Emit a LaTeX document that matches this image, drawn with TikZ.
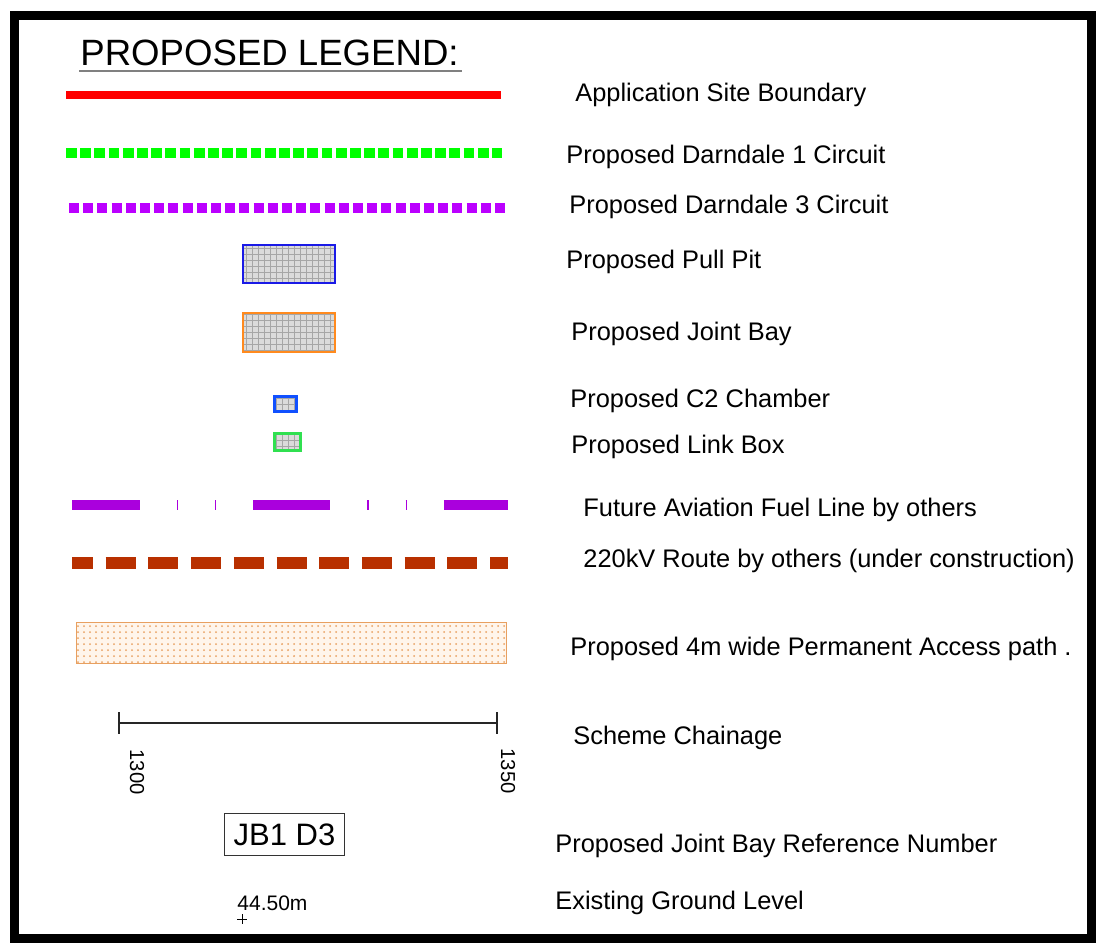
\documentclass[tikz,border=0pt]{standalone}
\usepackage{fontspec}
\setmainfont{Liberation Sans}
\usetikzlibrary{patterns}
\newcommand{\lbfont}{\fontsize{12.7}{15}\selectfont}
\definecolor{cRed}{HTML}{FF0000}
\definecolor{cGreen}{HTML}{00FF00}
\definecolor{cViolet}{HTML}{BB00FF}
\definecolor{cFuel}{HTML}{AA00DD}
\definecolor{cRoute}{HTML}{B83000}
\definecolor{cPit}{HTML}{1A1AE6}
\definecolor{cBay}{HTML}{FF8A1E}
\definecolor{cCham}{HTML}{1050FF}
\definecolor{cLink}{HTML}{30E050}
\definecolor{cPath}{HTML}{E8A060}
\tikzset{
    lb/.style={anchor=base west, inner sep=0pt, font=\lbfont},
    pit/.style={preaction={fill=gray!28}, pattern=grid, pattern color=gray!70, line width=1.3pt, inner sep=0pt},
    sq/.style={line width=5.3pt, dash pattern=on 5.35pt off 1.75pt}
}
\begin{document}
\begin{tikzpicture}[x=0.5pt, y=-0.5pt]
\useasboundingbox (0,0) rectangle (1113,944);

% Frame
\draw[line width=4.5pt] (14.5,15) rectangle (1091.5,938.5);

% Title
\node[anchor=base west, inner sep=0pt, font=\fontsize{18.3}{22}\selectfont] (T) at (80,65) {PROPOSED LEGEND:};
\draw[gray, line width=0.7pt] (79,71) -- (462,71);

% Row 1: site boundary
\draw[cRed, line width=4pt] (66,95) -- (501,95);
\node[lb] (L1) at (575,101) {Application Site Boundary};

% Row 2-3: circuits
\draw[sq, cGreen] (66,153) -- (502,153);
\node[lb] (L2) at (566,163) {Proposed Darndale 1 Circuit};
\draw[sq, cViolet, dash pattern=on 5pt off 2.1pt] (69,208) -- (505,208);
\node[lb] (L3) at (569,213) {Proposed Darndale 3 Circuit};

% Row 4-7: pits and chambers
\node[pit, draw=cPit, minimum width=46pt, minimum height=19pt] (PP) at (289,264) {};
\node[lb] (L4) at (566,268) {Proposed Pull Pit};
\node[pit, draw=cBay, minimum width=46pt, minimum height=19.5pt] (JBay) at (289,332.5) {};
\node[lb] (L5) at (571,340) {Proposed Joint Bay};
\node[pit, draw=cCham, minimum width=11pt, minimum height=7.5pt] (C2) at (285.5,404) {};
\node[lb] (L6) at (570,407) {Proposed C2 Chamber};
\node[pit, draw=cLink, minimum width=13pt, minimum height=8.5pt] (LB) at (287.5,442) {};
\node[lb] (L7) at (571,453) {Proposed Link Box};

% Row 8-9: lines by others
\draw[cFuel, line width=5pt, dash pattern=on 38.5pt off 18.5pt on 0.6pt off 18.5pt on 0.6pt off 18.5pt, dash phase=4.5pt] (72,505) -- (508,505);
\node[lb] (L8) at (583,516) {Future Aviation Fuel Line by others};
\draw[cRoute, line width=6.3pt, dash pattern=on 15pt off 6.35pt, dash phase=4.5pt] (72,563) -- (508,563);
\node[lb] (L9) at (583,567) {220kV Route by others (under construction)};

% Row 10: access path
\node[draw=cPath, line width=0.9pt, preaction={fill=orange!8}, pattern=dots, pattern color=cPath,
      minimum width=215pt, minimum height=20.5pt, inner sep=0pt] (AP) at (291.5,643) {};
\node[lb] (L10) at (570,655) {Proposed 4m wide Permanent Access path .};

% Row 11: chainage
\coordinate (CH1) at (119,723);
\coordinate (CH2) at (497,723);
\draw[gray!30!black, line width=0.7pt] (CH1) -- (CH2);
\draw[gray!30!black, line width=0.7pt] (119,712) -- (119,734) (497,712) -- (497,734);
\node[rotate=-90, inner sep=0pt, font=\fontsize{10.1}{12}\selectfont] (N1) at (137,772) {1300};
\node[rotate=-90, inner sep=0pt, font=\fontsize{10.1}{12}\selectfont] (N2) at (508,771) {1350};
\node[lb] (L11) at (573,744) {Scheme Chainage};

% Row 12: reference number
\node[draw=gray!40!black, line width=0.6pt, minimum width=60pt, minimum height=21pt, inner sep=0pt,
      font=\fontsize{15.5}{18}\selectfont] (JB) at (284.5,834.5) {JB1 D3};
\node[lb] (L12) at (555,852) {Proposed Joint Bay Reference Number};

% Row 13: ground level
\node[anchor=base west, inner sep=0pt, font=\fontsize{10.5}{12}\selectfont] (GL) at (237,910) {44.50m};
\draw[line width=0.4pt] (237,919) -- (247,919) (242,914) -- (242,924);
\node[lb] (L13) at (555,909) {Existing Ground Level};

\end{tikzpicture}
\end{document}
